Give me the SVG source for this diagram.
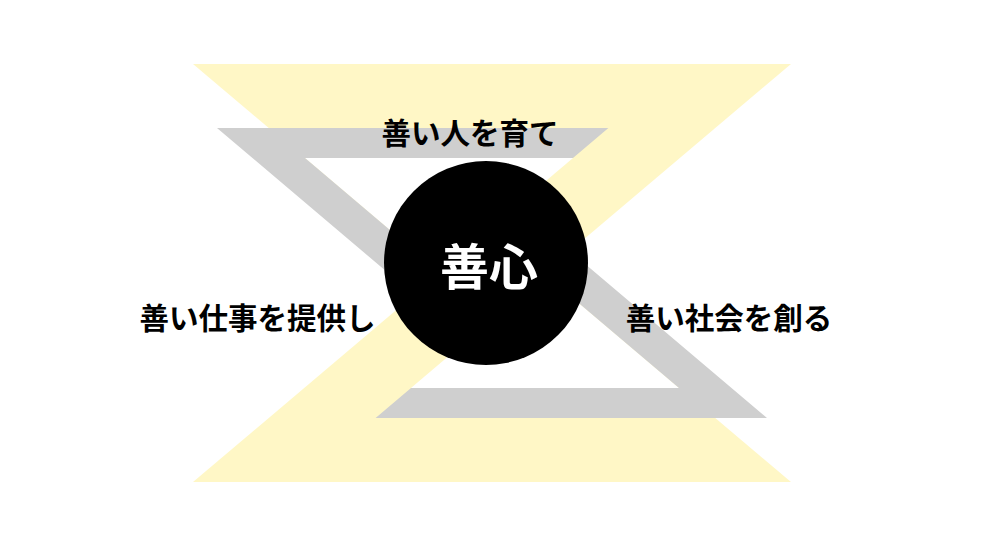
<svg xmlns="http://www.w3.org/2000/svg" width="1000" height="541" viewBox="0 0 1000 541">
  <style>
    .yellow { fill: #FFF7C6; }
    .gray { fill: #CFCFCF; }
    .white { fill: #FFFFFF; }
    .label { font-family: "Noto Sans CJK JP", "Noto Sans", sans-serif; font-weight: 700; font-size: 29.5px; fill: #000000; text-anchor: middle; dominant-baseline: central; }
    .core { font-family: "Noto Sans CJK JP", "Noto Sans", sans-serif; font-weight: 700; font-size: 49px; fill: #FFFFFF; text-anchor: middle; dominant-baseline: central; }
  </style>
  <rect width="1000" height="541" fill="#FFFFFF"/>
  <g id="background">
    <polygon class="yellow" points="193,64 791,64 492,317"/>
    <polygon class="yellow" points="193,64 791,64 492,317" transform="rotate(180 492 273)"/>
    <polygon class="white" points="305,158 573,158 439,271.6"/>
    <polygon class="white" points="305,158 573,158 439,271.6" transform="rotate(180 492 273)"/>
    <polygon class="gray" points="217,128 608.4,128 573,158 305,158 439,271.6 439,316"/>
    <polygon class="gray" points="217,128 608.4,128 573,158 305,158 439,271.6 439,316" transform="rotate(180 492 273)"/>
  </g>
  <g id="connectors"></g>
  <g id="node-core">
    <circle cx="486" cy="263" r="102" fill="#000000"/>
    <text class="core" x="489" y="263">善心</text>
  </g>
  <g id="node-people">
    <text class="label" x="470" y="130.5">善い人を育て</text>
  </g>
  <g id="node-work">
    <text class="label" x="257.5" y="315.5">善い仕事を提供し</text>
  </g>
  <g id="node-society">
    <text class="label" x="729" y="315.5">善い社会を創る</text>
  </g>
</svg>
